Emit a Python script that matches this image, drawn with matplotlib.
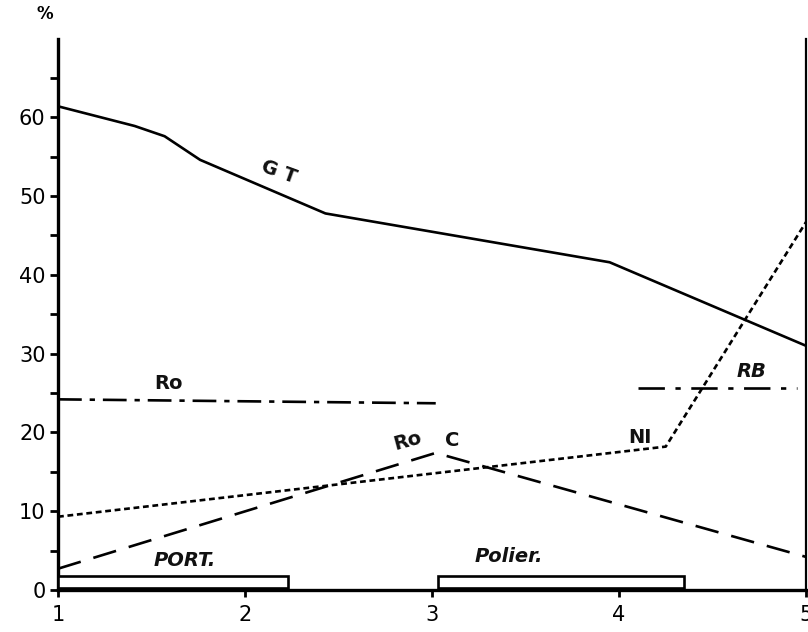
import matplotlib
matplotlib.use('Agg')
import matplotlib.pyplot as plt
from matplotlib.patches import Rectangle

# values
gt_x = [1.0, 1.41, 1.57, 1.76, 2.43, 3.95, 5.0]
gt_y = [61.4, 58.9, 57.6, 54.6, 47.8, 41.6, 31.0]
ro_x = [1.0, 3.02]
ro_y = [24.2, 23.7]
rb_x = [4.1, 4.95]
rb_y = [25.6, 25.6]
ni_x = [1.0, 4.25, 5.0]
ni_y = [9.3, 18.2, 46.7]
roc_x = [1.0, 3.02, 5.0]
roc_y = [2.7, 17.4, 4.2]
periods = ['PORT.', 'Polier.']
period_start = [1.0, 3.03]
period_end = [2.23, 4.35]
x_ticks = [1, 2, 3, 4, 5]
y_ticks = [0, 10, 20, 30, 40, 50, 60]

fig = plt.figure(figsize=(8.08, 6.32), dpi=100)
ax = fig.add_axes([0.0718, 0.0665, 0.9257, 0.8725])

lw = 1.9
ax.plot(gt_x, gt_y, color='black', lw=lw, solid_joinstyle='round')
ax.plot(ro_x, ro_y, color='black', lw=lw, dashes=(9, 3, 2, 3))
ax.plot(rb_x, rb_y, color='black', lw=lw, dashes=(10, 4, 2, 4))
ax.plot(ni_x, ni_y, color='black', lw=lw, dashes=(2.2, 1.4))
ax.plot(roc_x, roc_y, color='black', lw=lw, dashes=(9, 5))

for name, a, b in zip(periods, period_start, period_end):
    ax.add_patch(Rectangle((a, 0.3), b - a, 1.5, facecolor='white',
                           edgecolor='black', lw=1.9, clip_on=False, zorder=3))

lab = dict(fontsize=14, fontweight='bold', color='#111111')
ax.text(2.18, 53.0, 'G T', rotation=-20, ha='center', va='center', **lab)
ax.text(1.59, 26.2, 'Ro', ha='center', va='center', **lab)
ax.text(4.71, 27.7, 'RB', ha='center', va='center', style='italic', **lab)
ax.text(4.11, 19.4, 'NI', ha='center', va='center', **lab)
ax.text(2.87, 18.9, 'Ro', rotation=15, ha='center', va='center', **lab)
ax.text(3.11, 19.0, 'C', ha='center', va='center', **lab)
ax.text(1.68, 3.7, 'PORT.', ha='center', va='center', style='italic', **lab)
ax.text(3.41, 4.2, 'Polier.', ha='center', va='center', style='italic', **lab)
ax.text(-0.017, 1.045, '%', transform=ax.transAxes, ha='center', va='center',
        fontsize=12, fontweight='bold')

ax.set_xlim(1, 5)
ax.set_ylim(0, 70)
ax.set_xticks(x_ticks)
ax.set_xticklabels([str(t) for t in x_ticks])
ax.set_yticks(y_ticks)
ax.set_yticklabels([str(t) for t in y_ticks])
ax.set_yticks(range(5, 70, 10), minor=True)
ax.tick_params(axis='y', which='both', direction='out', length=6, width=2,
               labelsize=15, pad=3)
ax.tick_params(axis='x', direction='out', length=5, width=2, labelsize=15, pad=6)

ax.spines['top'].set_visible(False)
ax.spines['left'].set_linewidth(2.4)
ax.spines['bottom'].set_linewidth(2.4)
ax.spines['right'].set_linewidth(1.6)

fig.savefig('out.png', dpi=100)
